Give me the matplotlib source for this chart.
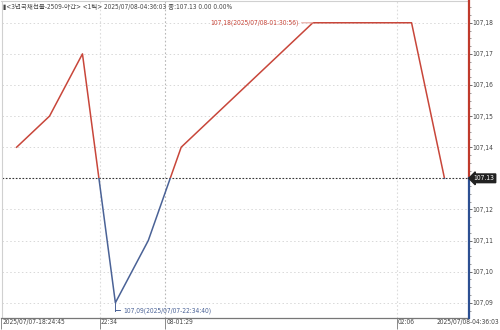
import matplotlib
matplotlib.use("Agg")
import matplotlib.pyplot as plt
import matplotlib.transforms as mtransforms
from matplotlib.patches import Rectangle
from matplotlib.ticker import MultipleLocator

plt.rcParams['font.family'] = ['DejaVu Sans', 'Noto Sans CJK KR']
plt.rcParams['font.stretch'] = 'condensed'

# ---- data ----
idx = [0, 1, 2, 3, 4, 5, 9, 12, 13]
prices = [107.14, 107.15, 107.17, 107.09, 107.11, 107.14, 107.18, 107.18, 107.13]
ref_price = 107.13
ytick_vals = [107.09, 107.10, 107.11, 107.12, 107.13, 107.14, 107.15, 107.16, 107.17, 107.18]
ytick_labels = ["107,09", "107,10", "107,11", "107,12", "107,13", "107,14", "107,15", "107,16", "107,17", "107,18"]
xtick_pos = [-0.46, 2.52, 4.52, 11.55]
xtick_labels = ["2025/07/07-18:24:45", "22:34", "08-01:29", "02:06"]
last_label = "2025/07/08-04:36:03"
vgrid_pos = [2.52, 4.52, 11.55]
title = "▮<3년국채선물-2509-야간> <1틱> 2025/07/08-04:36:03 종:107.13 0.00 0.00%"
hi_idx, hi_val, hi_text = 9, 107.18, "107,18(2025/07/08-01:30:56)"
lo_idx, lo_val, lo_text = 3, 107.09, "107,09(2025/07/07-22:34:40)"

RED = "#c8463a"
BLUE = "#4a6296"
RED_AX = "#c0392b"
BLUE_AX = "#2c4f92"
TXT = "#444444"
FS = 4.8

fig = plt.figure(figsize=(5, 3.3), dpi=100)
ax = fig.add_axes([0.003, 0.0364, 0.934, 0.9606])
xmin, xmax = -0.46, 13.73
ymin, ymax = 107.0851, 107.187
ax.set_xlim(xmin, xmax)
ax.set_ylim(ymin, ymax)

# grids
for v in ytick_vals:
    if abs(v - ref_price) > 1e-9:
        ax.axhline(v, color="#d8d8d8", lw=0.7, ls=(0, (1.5, 2.5)), zorder=1)
for i, v in enumerate(vgrid_pos):
    c = "#b8b8b8" if i == 1 else "#dcdcdc"
    ax.axvline(v, color=c, lw=0.8, ls=(0, (1.5, 2)), zorder=1)
ax.axhline(ref_price, color="#333333", lw=0.8, ls=(0, (1.5, 1.5)), zorder=2)

# price line split at reference price
l1, = ax.plot(idx, prices, color=RED, lw=1.1, zorder=3)
l2, = ax.plot(idx, prices, color=BLUE, lw=1.1, zorder=3)
r_up = Rectangle((xmin, ref_price), xmax - xmin, ymax - ref_price, transform=ax.transData)
r_dn = Rectangle((xmin, ymin), xmax - xmin, ref_price - ymin, transform=ax.transData)
l1.set_clip_path(r_up)
l2.set_clip_path(r_dn)

# spines
for s in ["left", "top"]:
    ax.spines[s].set_color("#d0d0d0")
    ax.spines[s].set_linewidth(0.8)
ax.spines["bottom"].set_color("#777777")
ax.spines["bottom"].set_linewidth(0.9)
ax.spines["right"].set_visible(False)
bt = mtransforms.blended_transform_factory(ax.transAxes, ax.transData)
ax.plot([1, 1], [ref_price, ymax], color=RED_AX, lw=1.6, transform=bt, clip_on=False, zorder=5)
ax.plot([1, 1], [ymin, ref_price], color=BLUE_AX, lw=1.6, transform=bt, clip_on=False, zorder=5)

# y ticks right
ax.yaxis.tick_right()
ax.set_yticks(ytick_vals)
ax.set_yticklabels(ytick_labels)
ax.yaxis.set_minor_locator(MultipleLocator(0.0025))
ax.tick_params(axis="y", which="major", direction="out", length=2.5, width=0.6,
               color="#555555", labelsize=FS, labelcolor=TXT, pad=0.5)
ax.tick_params(axis="y", which="minor", direction="out", length=1.5, width=0.5, color="#777777")
for lab in ax.get_yticklabels():
    if lab.get_text() == "107,13":
        lab.set_visible(False)

# x ticks
ax.set_xticks(xtick_pos)
ax.set_xticklabels(xtick_labels)
ax.tick_params(axis="x", direction="out", length=8, width=0.6, color="#777777",
               labelsize=FS, labelcolor=TXT, pad=-7.0)
for lab in ax.get_xticklabels():
    lab.set_ha("left")
offset = mtransforms.ScaledTranslation(1.2 / 100, 0, fig.dpi_scale_trans)
for lab in ax.get_xticklabels():
    lab.set_transform(lab.get_transform() + offset)
fig.canvas.draw()
yl = ax.get_xticklabels()[0].get_window_extent().y0
fig.text(0.998, yl / 330.0, last_label, ha="right", va="bottom", fontsize=FS, color=TXT)

# current price tag
ax.annotate(f"{ref_price:.2f}", xy=(1, ref_price), xycoords=bt, xytext=(5, 0),
            textcoords="offset pixels", ha="left", va="center", fontsize=FS, color="white",
            bbox=dict(boxstyle="larrow,pad=0.2", fc="#222222", ec="#222222"),
            annotation_clip=False, zorder=6)

# high / low annotations
ax.annotate(hi_text, xy=(hi_idx, hi_val), xytext=(-14, 0), textcoords="offset pixels",
            ha="right", va="center", fontsize=FS, color=RED,
            arrowprops=dict(arrowstyle="-", color="#e8a8a0", lw=0.8, shrinkA=0, shrinkB=0))
ax.plot([lo_idx, lo_idx], [lo_val, lo_val - 0.0025], color=BLUE, lw=0.7, zorder=3)
ax.annotate(lo_text, xy=(lo_idx, lo_val - 0.0025), xytext=(8, 0), textcoords="offset pixels",
            ha="left", va="center", fontsize=FS, color=BLUE,
            arrowprops=dict(arrowstyle="-", color=BLUE, lw=0.7, shrinkA=0, shrinkB=0))

# title
ax.text(0.004, 0.994, title, transform=ax.transAxes, ha="left", va="top", fontsize=4.7, color=TXT)

fig.savefig("out.png", dpi=100)
